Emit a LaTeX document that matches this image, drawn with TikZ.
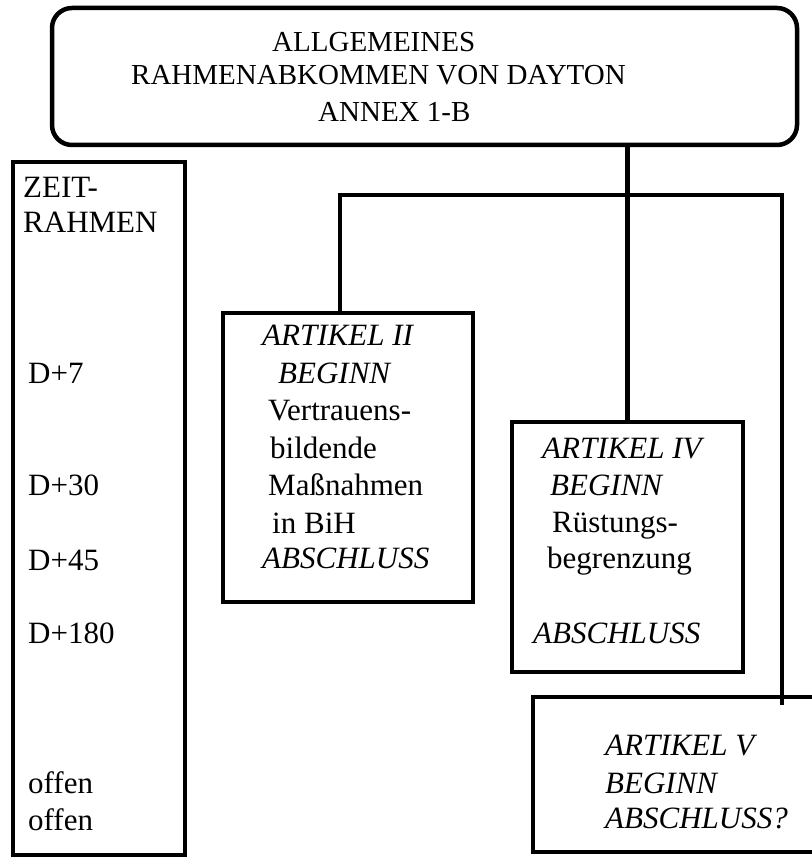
\documentclass[tikz,border=0pt]{standalone}
\usepackage{fontspec}
\setmainfont{Liberation Serif}
\usepackage{tikz}
\usetikzlibrary{positioning}

\tikzset{
  frame/.style={draw, line width=4.5pt, inner sep=0pt},
  lbl/.style={inner sep=0pt, anchor=base west, font=\fontsize{31}{37}\selectfont},
  itlbl/.style={lbl, font=\fontsize{31}{37}\selectfont\itshape},
  toplbl/.style={lbl, font=\fontsize{29}{35}\selectfont}
}

\begin{document}
\begin{tikzpicture}[x=1pt,y=-1pt]
  \useasboundingbox (0,0) rectangle (811,866);
  % boxes
  \node[frame, rounded corners=20pt, minimum width=745pt, minimum height=137pt] (rahmen) at (424.5,76.5) {};
  \node[frame, minimum width=172pt, minimum height=693pt] (zeit) at (99,508.5) {};
  \node[frame, minimum width=250pt, minimum height=289pt] (art2) at (348,457.5) {};
  \node[frame, minimum width=231pt, minimum height=250pt] (art4) at (627.5,547) {};
  \node[frame, minimum width=297pt, minimum height=155pt] (art5) at (681.5,774.5) {};
  % connectors
  \coordinate (jl) at (340,195);
  \coordinate (jr) at (782,195);
  \draw[line width=4.5pt] (rahmen.south -| art4.north) -- (art4.north);
  \draw[line width=4.5pt] (jl |- art2.north) -- (jl) -- (jr) -- (jr |- art5.north) -- ++(0,10);
  % title
  \node[toplbl] (t1) at (272,52) {ALLGEMEINES};
  \node[toplbl] (t2) at (131,85) {RAHMENABKOMMEN VON DAYTON};
  \node[toplbl] (t3) at (318,122) {ANNEX 1-B};
  % zeitrahmen
  \node[lbl] (z1) at (23,198) {ZEIT-};
  \node[lbl] (z2) at (23,233) {RAHMEN};
  \node[lbl] (z3) at (28,383) {D+7};
  \node[lbl] (z4) at (28,495) {D+30};
  \node[lbl] (z5) at (28,570) {D+45};
  \node[lbl] (z6) at (28,643) {D+180};
  \node[lbl] (z7) at (28,793) {offen};
  \node[lbl] (z8) at (28,830) {offen};
  % artikel II
  \node[itlbl] (a1) at (262,345) {ARTIKEL II};
  \node[itlbl] (a2) at (278,383) {BEGINN};
  \node[lbl] (a3) at (268,420) {Vertrauens-};
  \node[lbl] (a4) at (270,458) {bildende};
  \node[lbl] (a5) at (268,495) {Maßnahmen};
  \node[lbl] (a6) at (272,533) {in BiH};
  \node[itlbl] (a7) at (262,568) {ABSCHLUSS};
  % artikel IV
  \node[itlbl] (b1) at (542,458) {ARTIKEL IV};
  \node[itlbl] (b2) at (550,495) {BEGINN};
  \node[lbl] (b3) at (552,532) {Rüstungs-};
  \node[lbl] (b4) at (547,568) {begrenzung};
  \node[itlbl] (b5) at (533,643) {ABSCHLUSS};
  % artikel V
  \node[itlbl] (c1) at (605,755) {ARTIKEL V};
  \node[itlbl] (c2) at (605,793) {BEGINN};
  \node[itlbl] (c3) at (605,828) {ABSCHLUSS?};
\end{tikzpicture}
\end{document}
